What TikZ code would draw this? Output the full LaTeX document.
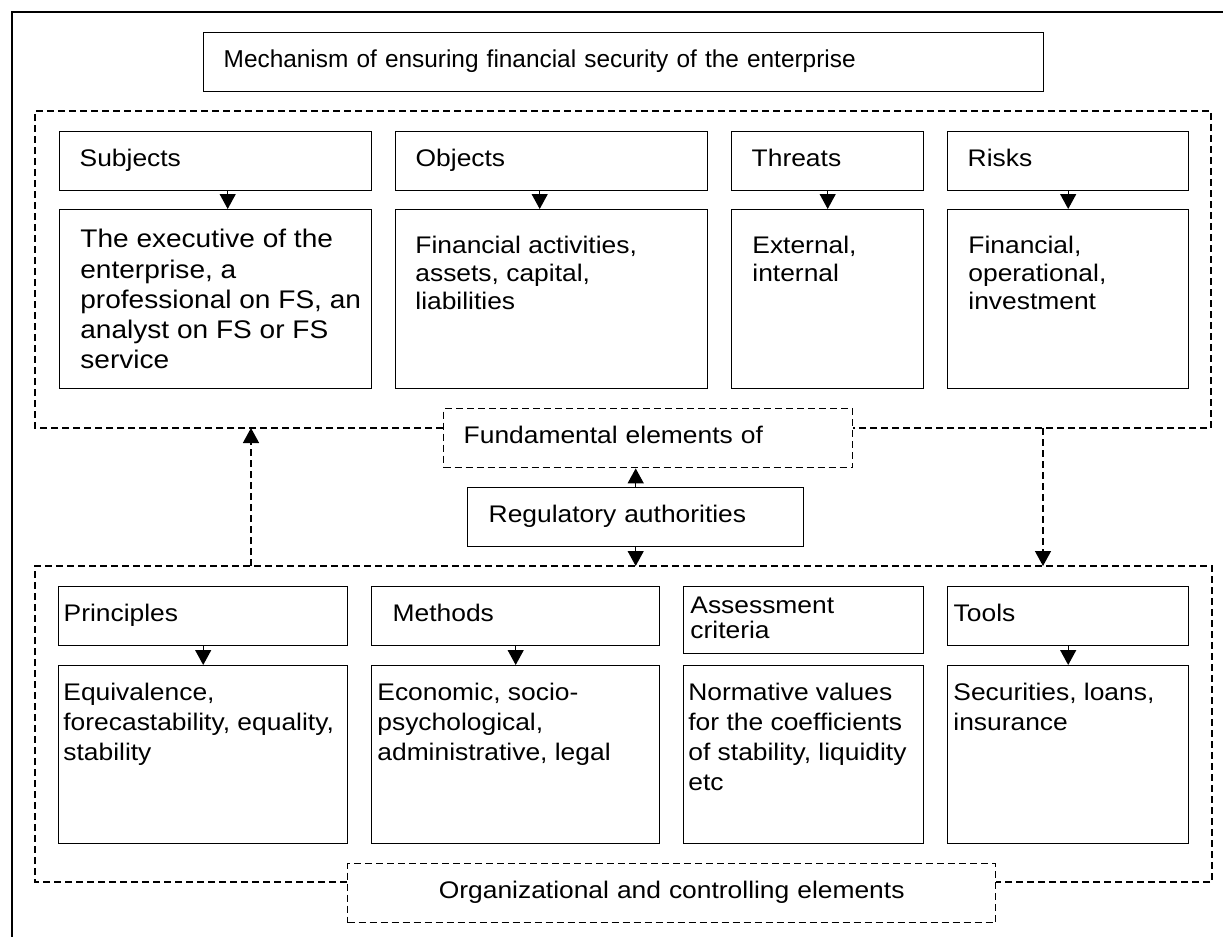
\documentclass[tikz,border=0pt]{standalone}
\usepackage{fontspec}
\setmainfont{Liberation Sans}[FakeStretch=1.1]
\newfontfamily\titlefont{Liberation Sans}
\usetikzlibrary{arrows.meta}

\begin{document}
\begin{tikzpicture}[x=0.5pt, y=-0.5pt,
    box/.style={draw, line width=0.7pt, anchor=north west, inner ysep=0pt},
    hdr/.style={box, align=left, inner xsep=10pt, minimum height=29.5pt,
        text height=8.5pt, text depth=3.5pt, font=\fontsize{12pt}{14pt}\selectfont},
    cbox/.style={box, inner sep=0pt, minimum height=89.5pt},
    ctxt/.style={anchor=north west, inner sep=0pt, align=left, font=\fontsize{12pt}{14pt}\selectfont},
    ltxt/.style={ctxt, font=\fontsize{12pt}{15pt}\selectfont},
    region/.style={line width=0.7pt, dash pattern=on 3.5pt off 2pt},
    arr/.style={-{Triangle[width=8pt, length=7.5pt]}, line width=0.7pt}]
        \useasboundingbox (0,0) rectangle (1223,937);
        \draw[line width=0.8pt] (12,945) |- (1230,12);

        \node[hdr, text width=400pt, font=\titlefont\fontsize{12.2pt}{14pt}\selectfont] (title) at (203,32) {Mechanism of ensuring financial security of the enterprise};

        \node[hdr, text width=136pt] (subj) at (59,131) {Subjects};
        \node[hdr, text width=136pt] (obj) at (395,131) {Objects};
        \node[hdr, text width=76pt] (thr) at (731,131) {Threats};
        \node[hdr, text width=100.5pt] (risk) at (947,131) {Risks};

        \node[cbox, minimum width=156pt] (subjc) at (59,209) {};
        \node[cbox, minimum width=156pt] (objc) at (395,209) {};
        \node[cbox, minimum width=96pt] (thrc) at (731,209) {};
        \node[cbox, minimum width=120.5pt] (riskc) at (947,209) {};

        \node[ctxt, font=\fontsize{12.75pt}{15.1pt}\selectfont] (subjt) at ([shift={(21,20)}]subjc.north west) {The executive of the\\enterprise, a\\professional on FS, an\\analyst on FS or FS\\service};
        \node[ctxt] (objt) at ([shift={(20,27)}]objc.north west) {Financial activities,\\assets, capital,\\liabilities};
        \node[ctxt] (thrt) at ([shift={(21,27)}]thrc.north west) {External,\\internal};
        \node[ctxt] (riskt) at ([shift={(21,27)}]riskc.north west) {Financial,\\operational,\\investment};

        \draw[arr] ([xshift=6pt]subj.south) -- ([xshift=6pt]subjc.north);
        \draw[arr] ([xshift=-6pt]obj.south) -- ([xshift=-6pt]objc.north);
        \draw[arr] (thr.south) -- (thrc.north);
        \draw[arr] (risk.south) -- (riskc.north);

        \node[hdr, region, text width=184.5pt] (fund) at (443,408) {Fundamental elements of};
        \node[hdr, inner xsep=10.5pt, text width=147pt] (reg) at (467,487) {Regulatory authorities};

        \node[hdr, inner xsep=2.5pt, text width=139.5pt] (prin) at (58,586) {Principles};
        \node[hdr, inner xsep=10.5pt, text width=123pt] (meth) at (371,586) {Methods};
        \node[box, inner sep=0pt, minimum width=120pt, minimum height=33.5pt] (crit) at (683,586) {};
        \node[ctxt, font=\fontsize{12pt}{12.5pt}\selectfont] (critx) at ([shift={(7,11)}]crit.north west) {Assessment\\criteria};
        \node[hdr, inner xsep=3pt, text width=114.5pt] (tool) at (947,586) {Tools};

        \node[cbox, minimum width=144.5pt, minimum height=89pt] (princ) at (58,665) {};
        \node[cbox, minimum width=144pt, minimum height=89pt] (methc) at (371,665) {};
        \node[cbox, minimum width=120pt, minimum height=89pt] (critc) at (683,665) {};
        \node[cbox, minimum width=120.5pt, minimum height=89pt] (toolc) at (947,665) {};

        \node[ltxt] (print) at ([shift={(5,18)}]princ.north west) {Equivalence,\\forecastability, equality,\\stability};
        \node[ltxt] (metht) at ([shift={(6,18)}]methc.north west) {Economic, socio-\\psychological,\\administrative, legal};
        \node[ltxt] (critt) at ([shift={(5,18)}]critc.north west) {Normative values\\for the coefficients\\of stability, liquidity\\etc};
        \node[ltxt] (toolt) at ([shift={(6,18)}]toolc.north west) {Securities, loans,\\insurance};

        \draw[arr] (prin.south) -- (princ.north);
        \draw[arr] (meth.south) -- (methc.north);
        \draw[arr] (tool.south) -- (toolc.north);

        \node[hdr, region, align=center, text width=304pt] (org) at (347,863) {Organizational and controlling elements};

        \coordinate (upL) at (251,428);
        \coordinate (lowL) at (251,566);
        \coordinate (upR) at (1043,428);
        \coordinate (lowR) at (1043,566);

        \draw[region] (fund.west |- upL) -| (35,111) -| (1211,428) -- (fund.east |- upL);
        \draw[region] (org.west |- 0,882) -| (35,566) -| (1212,882) -- (org.east |- 0,882);

        \draw[region, arr] (lowL) -- (upL);
        \draw[region, arr] (upR) -- (lowR);
        \draw[arr] (reg.north) -- (reg.north |- fund.south);
        \draw[arr] (reg.south) -- (reg.south |- lowL);
\end{tikzpicture}
\end{document}
